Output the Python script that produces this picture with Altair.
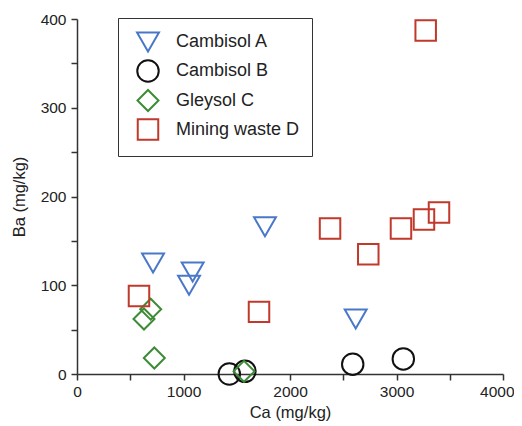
import altair as alt
import pandas as pd

# Data
camb_a_ca = [714, 1086, 1052, 1765, 2617]
camb_a_ba = [125, 115, 100, 166, 62]

camb_b_ca = [1430, 1577, 2589, 3064]
camb_b_ba = [0, 3, 11, 17]

gley_c_ca = [692, 629, 726, 1568]
gley_c_ba = [73, 62, 18, 3]

mine_d_ca = [582, 1709, 2376, 2735, 3042, 3258, 3399, 3274]
mine_d_ba = [88, 70, 164, 135, 164, 174, 182, 387]

groups = ["Cambisol A", "Cambisol B", "Gleysol C", "Mining waste D"]
colors = ["#4a78c8", "#111111", "#3d8b37", "#c0392b"]
shapes = ["triangle-down", "circle", "diamond", "square"]
marker_sizes = [480, 420, 600, 340]

rows = []
for g, xs, ys in zip(groups,
                     [camb_a_ca, camb_b_ca, gley_c_ca, mine_d_ca],
                     [camb_a_ba, camb_b_ba, gley_c_ba, mine_d_ba]):
    for xv, yv in zip(xs, ys):
        rows.append({"group": g, "kind": g, "Ca": xv, "Ba": yv})
df = pd.DataFrame(rows)

x_ticks = list(range(0, 4001, 500))
y_ticks = list(range(0, 401, 50))

chart = alt.Chart(df).mark_point(filled=False, strokeWidth=2, opacity=1).encode(
    x=alt.X("Ca:Q", scale=alt.Scale(domain=[0, 4000], nice=False),
            axis=alt.Axis(title="Ca (mg/kg)", values=x_ticks,
                          labelExpr="datum.value % 1000 == 0 ? datum.label : ''",
                          format="d", labelPadding=4, titlePadding=5,
                          labelFlush=False,
                          labelAlign={"condition": {"test": "datum.value == 4000", "value": "right"},
                                      "value": "center"},
                          labelOffset={"condition": {"test": "datum.value == 4000", "value": 11},
                                       "value": 0})),
    y=alt.Y("Ba:Q", scale=alt.Scale(domain=[0, 400], nice=False),
            axis=alt.Axis(title="Ba (mg/kg)", values=y_ticks,
                          labelExpr="datum.value % 100 == 0 ? datum.label : ''",
                          format="d", labelPadding=5, titlePadding=13,
                          labelFlush=False)),
    color=alt.Color("group:N", scale=alt.Scale(domain=groups, range=colors),
                    legend=alt.Legend(title=None, orient="none", legendX=41, legendY=-1,
                                      strokeColor="#333333", padding=12, symbolOffset=6,
                                      symbolSize=400, symbolStrokeWidth=2,
                                      labelFontSize=18, labelColor="#222222",
                                      labelOffset=16, rowPadding=0, labelLimit=300,
                                      fillColor="white", cornerRadius=0)),
    shape=alt.Shape("group:N", scale=alt.Scale(domain=groups, range=shapes)),
    size=alt.Size("kind:N", scale=alt.Scale(domain=groups, range=marker_sizes), legend=None),
).properties(
    width=426, height=355,
    autosize=alt.AutoSizeParams(type="none"),
    padding={"left": 69, "top": 11, "right": 11, "bottom": 50},
).configure_axis(
    grid=False, domainColor="#333333", tickColor="#333333", domainWidth=1.5,
    tickWidth=1.5, tickSize=6, labelFontSize=15.5, titleFontSize=16.5,
    labelColor="#222222", titleColor="#222222", labelFont="Liberation Sans",
    titleFont="Liberation Sans", titleFontWeight="normal",
).configure_legend(
    labelFont="Liberation Sans",
).configure_view(stroke=None)

chart.save("out.html", embed_options={"renderer": "svg", "actions": False})
